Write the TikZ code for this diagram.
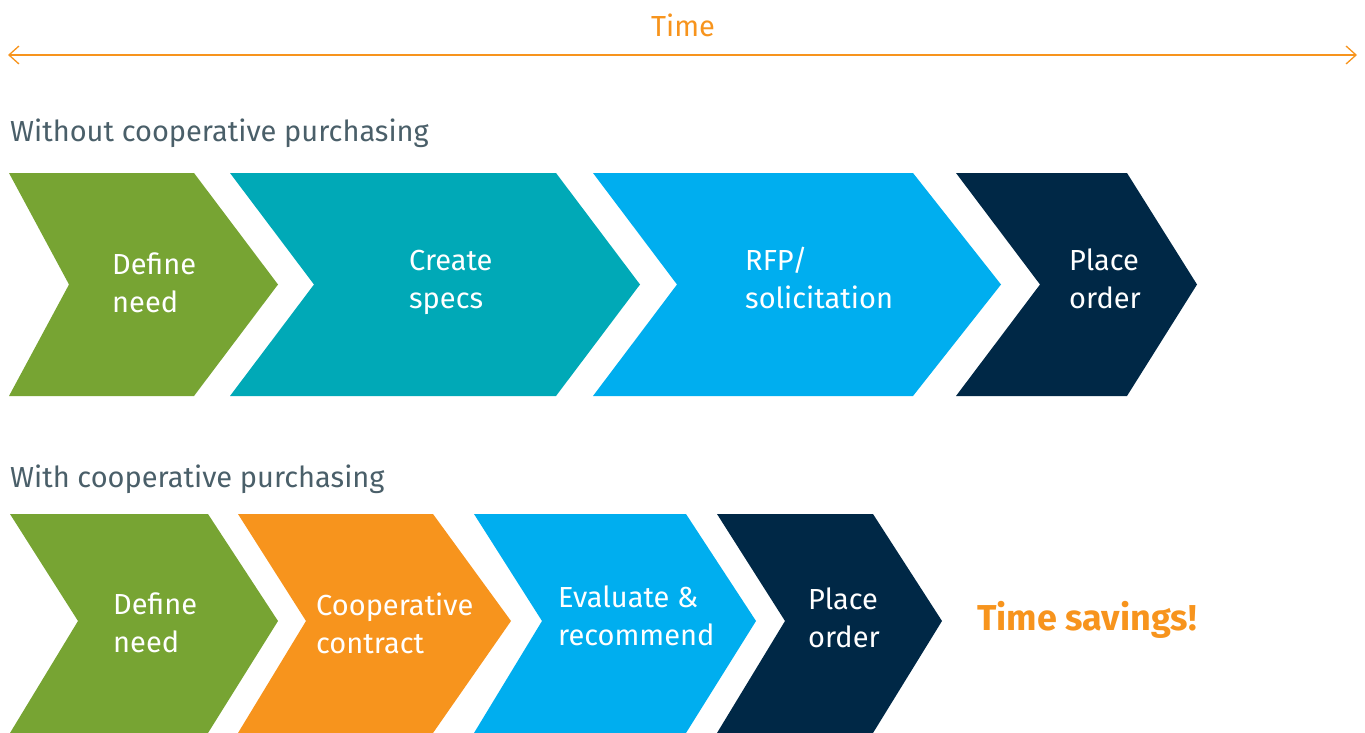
\documentclass[tikz,border=0pt]{standalone}
\usepackage{fontspec}
\setmainfont{Fira Sans}
\usetikzlibrary{arrows.meta}

\definecolor{stepgreen}{HTML}{77A433}
\definecolor{stepteal}{HTML}{00A9B7}
\definecolor{stepblue}{HTML}{00AEEF}
\definecolor{stepnavy}{HTML}{002846}
\definecolor{timeorange}{HTML}{F7941D}
\definecolor{headgray}{HTML}{4A5F69}

% chevron: colour, left, right, notch, tip, top, mid, bottom
\newcommand{\chevron}[8]{%
  \fill[#1] (#2,#6) -- (#3,#6) -- (#5,#7) -- (#3,#8) -- (#2,#8) -- (#4,#7) -- cycle;}

\begin{document}
\begin{tikzpicture}[
    x=1pt, y=-1pt,
    steptext/.style={anchor=base west, inner sep=0pt, align=left, text=white, font=\fontsize{29}{37.5}\selectfont},
    heading/.style={anchor=base west, inner sep=0pt, text=headgray, font=\fontsize{29}{35}\selectfont},
    timeline/.style={{Straight Barb[length=10pt,width=18pt]}-{Straight Barb[length=10pt,width=18pt]}, draw=timeorange, line width=1.3pt}
]
    \useasboundingbox (0,0) rectangle (1365,733);

    % Time axis
    \coordinate (tstart) at (8,55);
    \coordinate (tend) at (1357,55);
    \draw[timeline] (tstart) -- (tend);
    \node[anchor=base, inner sep=0pt, text=timeorange, font=\fontsize{29}{35}\selectfont] (time) at (683,37) {Time};

    % Without cooperative purchasing
    \node[heading] (without) at (10,142) {Without cooperative purchasing};
    \chevron{stepgreen}{9}{194}{69}{278}{173}{284.5}{396}
    \chevron{stepteal}{230}{556}{314}{640}{173}{284.5}{396}
    \chevron{stepblue}{593}{913}{677}{1001}{173}{284.5}{396}
    \chevron{stepnavy}{956}{1127}{1040}{1197}{173}{284.5}{396}
    \node[steptext] (need1) at (112,312) {Define\\need};
    \node[steptext] (specs) at (409,308) {Create\\specs};
    \node[steptext] (rfp) at (745,308) {RFP/\\solicitation};
    \node[steptext] (order1) at (1069,308) {Place\\order};

    % With cooperative purchasing
    \node[heading] (with) at (10,487) {With cooperative purchasing};
    \chevron{stepgreen}{10}{208}{78}{278}{514}{621}{733}
    \chevron{timeorange}{238}{433}{306}{511}{514}{621}{733}
    \chevron{stepblue}{474}{686}{542}{756}{514}{621}{733}
    \chevron{stepnavy}{717}{873}{785}{942}{514}{621}{733}
    \node[steptext] (need2) at (113,652) {Define\\need};
    \node[steptext] (coop) at (316,653) {Cooperative\\contract};
    \node[steptext] (evaluate) at (558,645) {Evaluate \&\\recommend};
    \node[steptext] (order2) at (808,647) {Place\\order};

    % Label
    \node[anchor=base west, inner sep=0pt, text=timeorange, font=\fontsize{36}{42}\selectfont\bfseries] (savings) at (977,630) {Time savings!};
\end{tikzpicture}
\end{document}
